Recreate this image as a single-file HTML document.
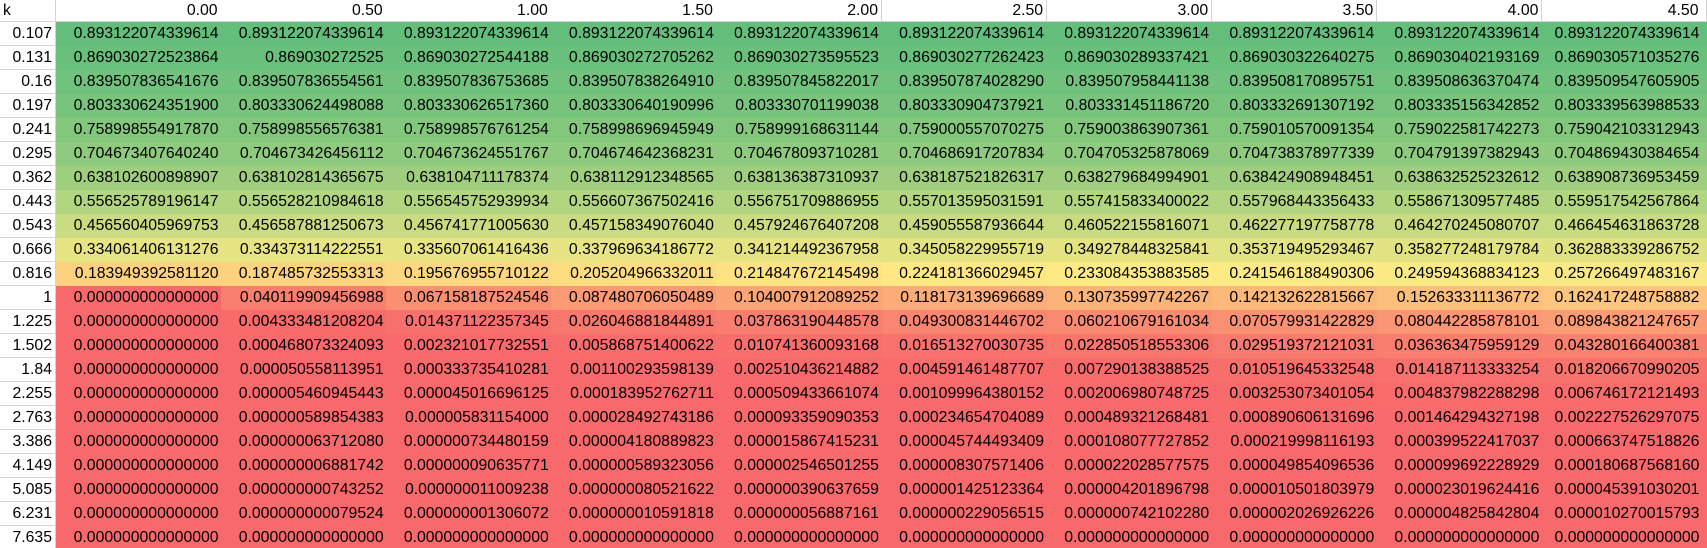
<!DOCTYPE html>
<html><head><meta charset="utf-8">
<style>
html,body{margin:0;padding:0;background:#fff;overflow:hidden;}
#sheet{position:relative;width:1707px;height:548px;overflow:hidden;font-family:"Liberation Sans",Arial,sans-serif;font-size:15.8px;color:#000;}
.c{position:absolute;box-sizing:border-box;white-space:nowrap;text-align:right;padding-right:3px;line-height:24px;}
.w{border-right:1px solid #d4d4d4;border-bottom:1px solid #d4d4d4;background:#fff;}
.last{padding-right:8px;}
</style></head>
<body>
<div id="sheet"></div>
<script>
const colLabels = ["0.00","0.50","1.00","1.50","2.00","2.50","3.00","3.50","4.00","4.50"];
const kLabels = ["0.107","0.131","0.16","0.197","0.241","0.295","0.362","0.443","0.543","0.666","0.816","1","1.225","1.502","1.84","2.255","2.763","3.386","4.149","5.085","6.231","7.635"];
const Z = "0.000000000000000";
const values = [
["0.893122074339614","0.893122074339614","0.893122074339614","0.893122074339614","0.893122074339614","0.893122074339614","0.893122074339614","0.893122074339614","0.893122074339614","0.893122074339614"],
["0.869030272523864","0.869030272525","0.869030272544188","0.869030272705262","0.869030273595523","0.869030277262423","0.869030289337421","0.869030322640275","0.869030402193169","0.869030571035276"],
["0.839507836541676","0.839507836554561","0.839507836753685","0.839507838264910","0.839507845822017","0.839507874028290","0.839507958441138","0.839508170895751","0.839508636370474","0.839509547605905"],
["0.803330624351900","0.803330624498088","0.803330626517360","0.803330640190996","0.803330701199038","0.803330904737921","0.803331451186720","0.803332691307192","0.803335156342852","0.803339563988533"],
["0.758998554917870","0.758998556576381","0.758998576761254","0.758998696945949","0.758999168631144","0.759000557070275","0.759003863907361","0.759010570091354","0.759022581742273","0.759042103312943"],
["0.704673407640240","0.704673426456112","0.704673624551767","0.704674642368231","0.704678093710281","0.704686917207834","0.704705325878069","0.704738378977339","0.704791397382943","0.704869430384654"],
["0.638102600898907","0.638102814365675","0.638104711178374","0.638112912348565","0.638136387310937","0.638187521826317","0.638279684994901","0.638424908948451","0.638632525232612","0.638908736953459"],
["0.556525789196147","0.556528210984618","0.556545752939934","0.556607367502416","0.556751709886955","0.557013595031591","0.557415833400022","0.557968443356433","0.558671309577485","0.559517542567864"],
["0.456560405969753","0.456587881250673","0.456741771005630","0.457158349076040","0.457924676407208","0.459055587936644","0.460522155816071","0.462277197758778","0.464270245080707","0.466454631863728"],
["0.334061406131276","0.334373114222551","0.335607061416436","0.337969634186772","0.341214492367958","0.345058229955719","0.349278448325841","0.353719495293467","0.358277248179784","0.362883339286752"],
["0.183949392581120","0.187485732553313","0.195676955710122","0.205204966332011","0.214847672145498","0.224181366029457","0.233084353883585","0.241546188490306","0.249594368834123","0.257266497483167"],
[Z,"0.040119909456988","0.067158187524546","0.087480706050489","0.104007912089252","0.118173139696689","0.130735997742267","0.142132622815667","0.152633311136772","0.162417248758882"],
[Z,"0.004333481208204","0.014371122357345","0.026046881844891","0.037863190448578","0.049300831446702","0.060210679161034","0.070579931422829","0.080442285878101","0.089843821247657"],
[Z,"0.000468073324093","0.002321017732551","0.005868751400622","0.010741360093168","0.016513270030735","0.022850518553306","0.029519372121031","0.036363475959129","0.043280166400381"],
[Z,"0.000050558113951","0.000333735410281","0.001100293598139","0.002510436214882","0.004591461487707","0.007290138388525","0.010519645332548","0.014187113333254","0.018206670990205"],
[Z,"0.000005460945443","0.000045016696125","0.000183952762711","0.000509433661074","0.001099964380152","0.002006980748725","0.003253073401054","0.004837982288298","0.006746172121493"],
[Z,"0.000000589854383","0.000005831154000","0.000028492743186","0.000093359090353","0.000234654704089","0.000489321268481","0.000890606131696","0.001464294327198","0.002227526297075"],
[Z,"0.000000063712080","0.000000734480159","0.000004180889823","0.000015867415231","0.000045744493409","0.000108077727852","0.000219998116193","0.000399522417037","0.000663747518826"],
[Z,"0.000000006881742","0.000000090635771","0.000000589323056","0.000002546501255","0.000008307571406","0.000022028577575","0.000049854096536","0.000099692228929","0.000180687568160"],
[Z,"0.000000000743252","0.000000011009238","0.000000080521622","0.000000390637659","0.000001425123364","0.000004201896798","0.000010501803979","0.000023019624416","0.000045391030201"],
[Z,"0.000000000079524","0.000000001306072","0.000000010591818","0.000000056887161","0.000000229056515","0.000000742102280","0.000002026926226","0.000004825842804","0.000010270015793"],
[Z,Z,Z,Z,Z,Z,Z,Z,Z,Z]
];

const sheet = document.getElementById('sheet');
const K_W = 56, COL_W = 165.1, HEAD_H = 22, ROW_H = 24;
const xPos = j => K_W + j * COL_W;
const yPos = i => HEAD_H + i * ROW_H;

let vmin = Infinity, vmax = -Infinity;
values.forEach(r => r.forEach(s => { const v = parseFloat(s); if (v < vmin) vmin = v; if (v > vmax) vmax = v; }));
const vmid = 0.23;
const RED = [248,105,107], YEL = [255,235,132], GRN = [99,190,123];
function mix(a, b, t) { return 'rgb(' + a.map((x, i) => Math.round(x + (b[i] - x) * t)).join(',') + ')'; }
function colorFor(v) {
  if (v <= vmid) return mix(RED, YEL, Math.max(0, (v - vmin) / (vmid - vmin)));
  return mix(YEL, GRN, Math.min(1, (v - vmid) / (vmax - vmid)));
}
function cell(x, y, w, h, cls) {
  const d = document.createElement('div');
  d.className = 'c ' + cls;
  d.style.left = x + 'px'; d.style.top = y + 'px';
  d.style.width = w + 'px'; d.style.height = h + 'px';
  sheet.appendChild(d);
  return d;
}
const lastCls = j => (j === colLabels.length - 1 ? ' last' : '');
const corner = cell(0, 0, K_W, HEAD_H, 'w');


corner.style.textAlign = 'left'; corner.style.paddingLeft = '3px'; corner.style.lineHeight = '22px';
corner.textContent = 'k';
colLabels.forEach((lab, j) => {
  const d = cell(xPos(j), 0, COL_W + 0.5, HEAD_H, 'w' + lastCls(j));
  
  
  d.style.lineHeight = '22px';
  d.textContent = lab;
});
kLabels.forEach((lab, i) => {
  const d = cell(0, yPos(i), K_W, ROW_H, 'w');
  
  
  d.textContent = lab;
  values[i].forEach((s, j) => {
    const c = cell(xPos(j), yPos(i), COL_W + 0.5, ROW_H, lastCls(j));
    
    
    c.style.background = colorFor(parseFloat(s));
    c.textContent = s;
  });
});
</script>
</body></html>
